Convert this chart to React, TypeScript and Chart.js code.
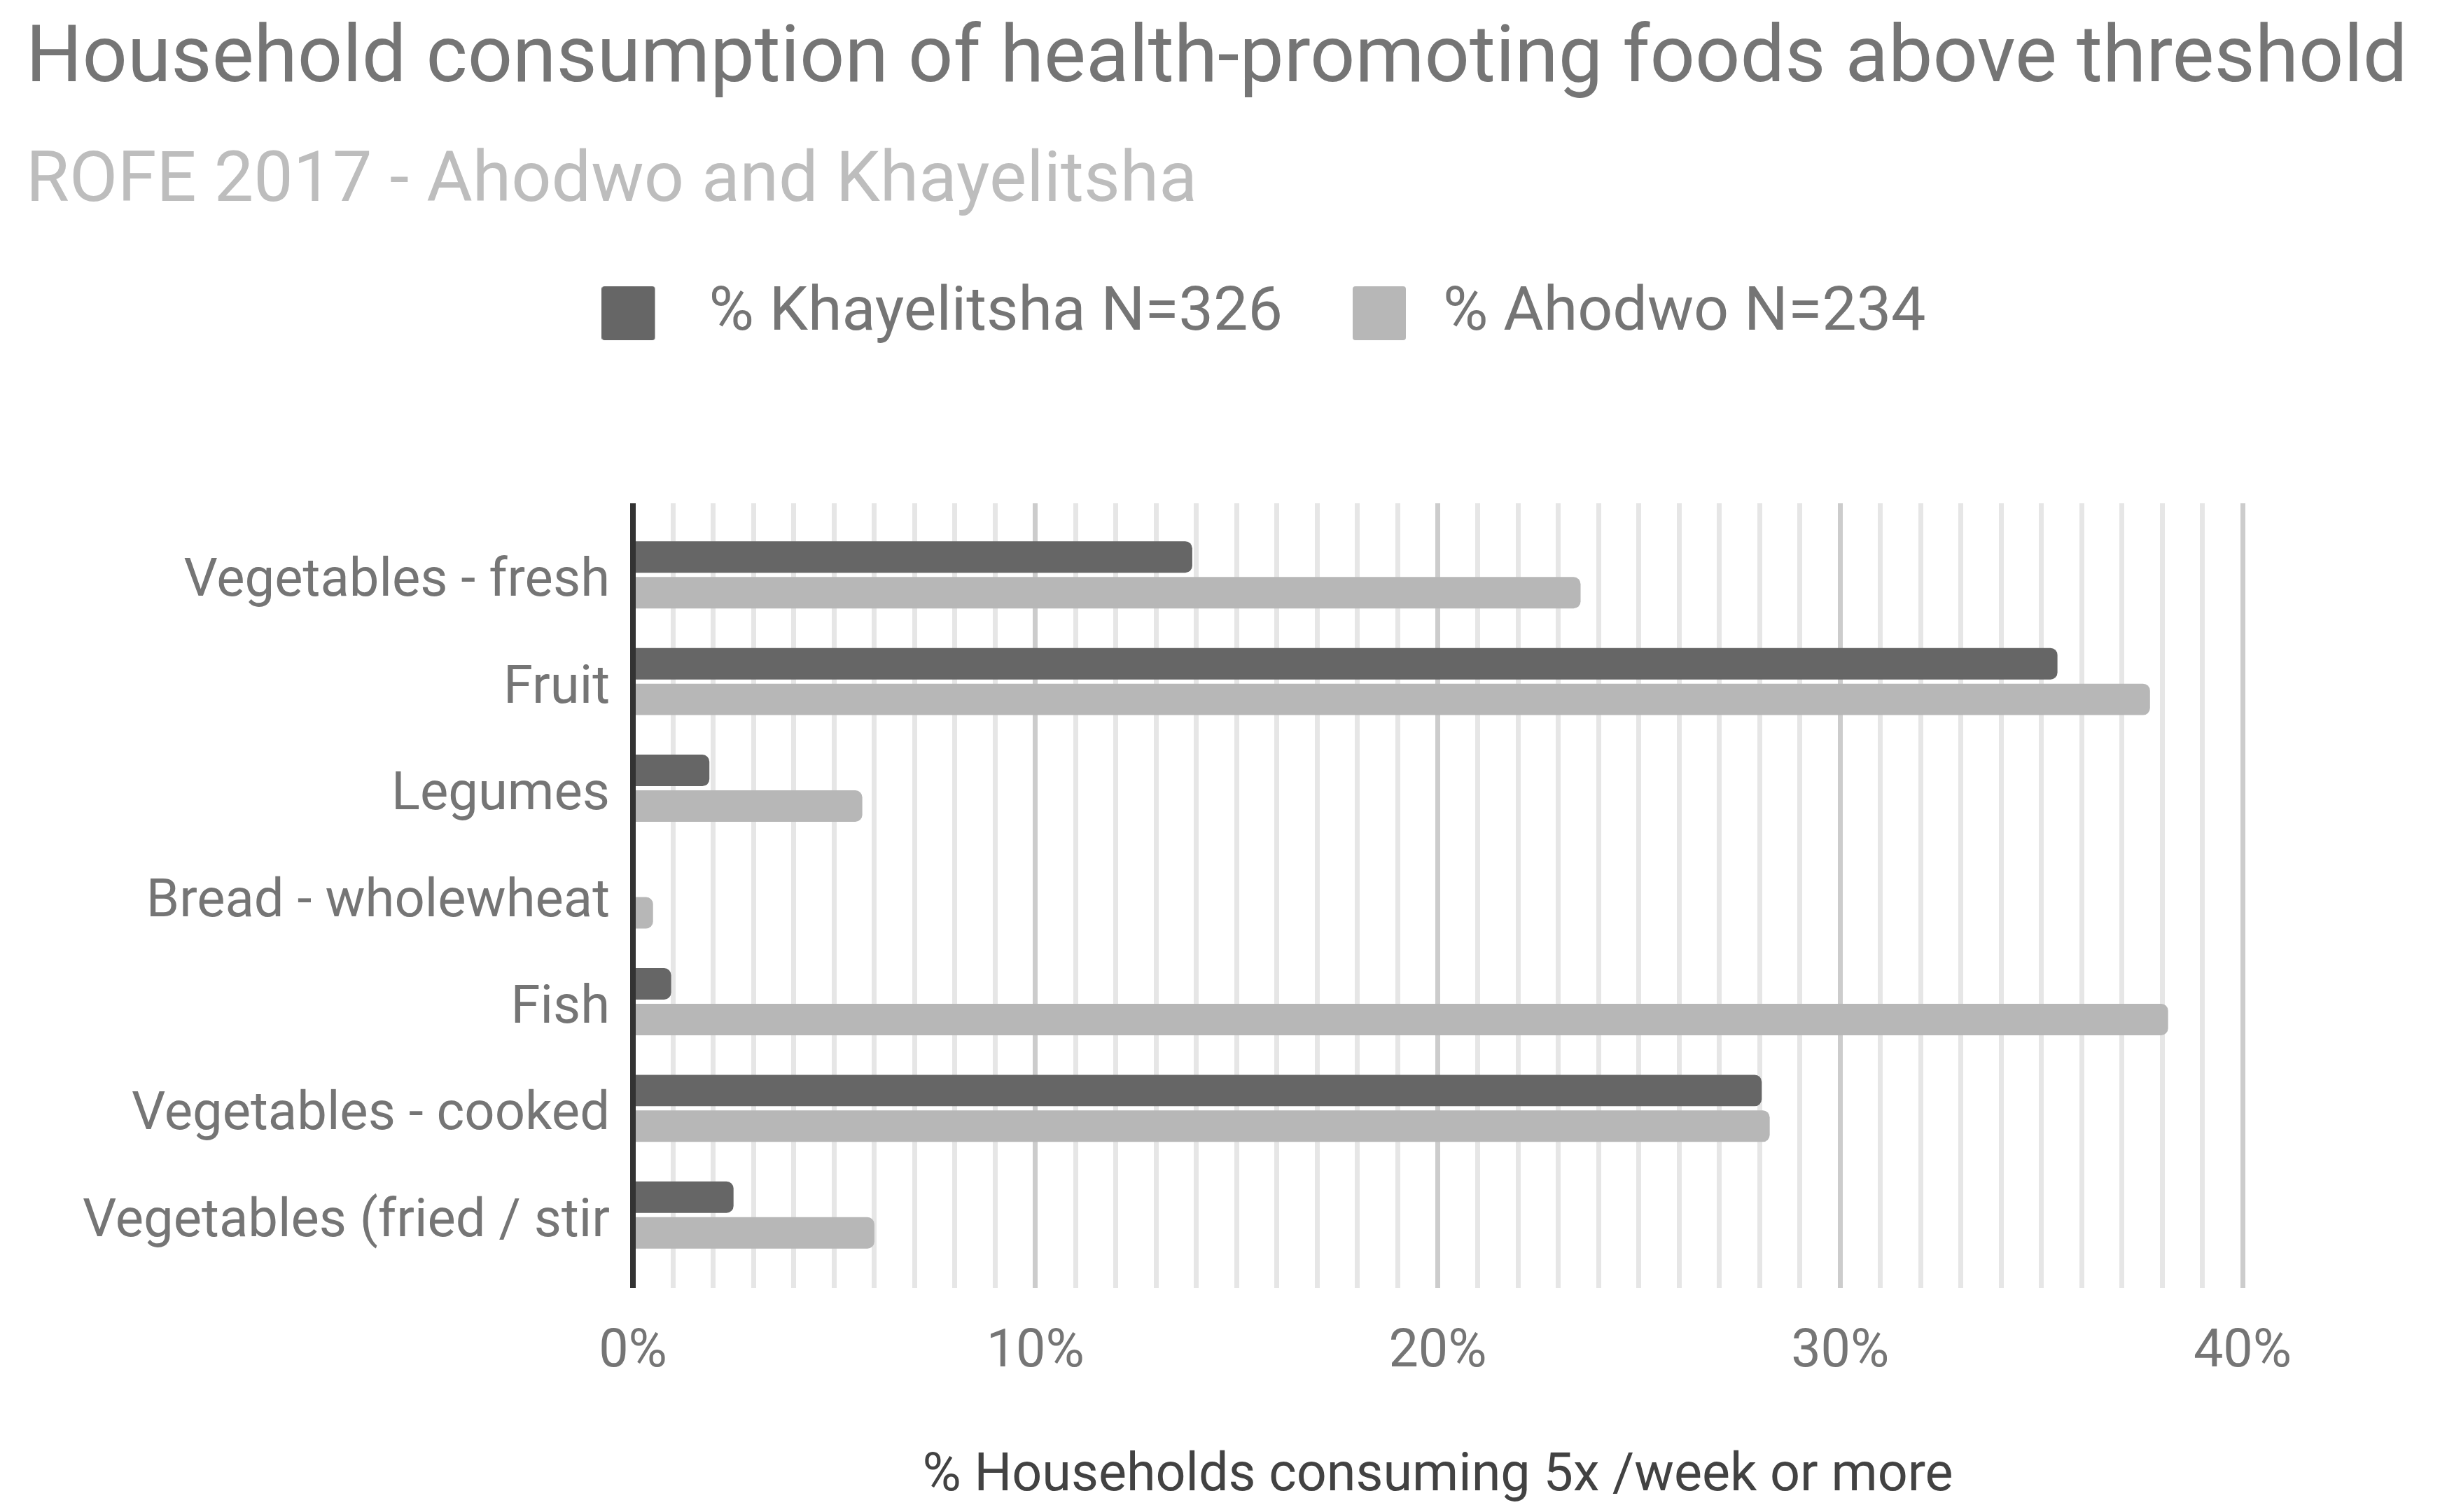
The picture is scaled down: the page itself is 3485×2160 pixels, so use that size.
import React, { useEffect, useRef } from 'react';
import { Chart, registerables } from 'chart.js';

Chart.register(...registerables);

const categories = [
  'Vegetables - fresh',
  'Fruit',
  'Legumes',
  'Bread - wholewheat',
  'Fish',
  'Vegetables - cooked',
  'Vegetables (fried / stir',
];
const khayelitsha = [13.9, 35.4, 1.9, 0, 0.95, 28.05, 2.5];
const ahodwo = [23.55, 37.7, 5.7, 0.5, 38.15, 28.25, 6.0];
const seriesNames = ['% Khayelitsha N=326', '% Ahodwo N=234'];
const seriesColors = ['#666666', '#b7b7b7'];
const xTickLabels = ['0%', '10%', '20%', '30%', '40%'];

const titleText = 'Household consumption of health-promoting foods above threshold';
const subtitleText = 'ROFE 2017 - Ahodwo and Khayelitsha';
const xAxisTitle = '% Households consuming 5x /week or more';

// legend swatch: a square inside a wider transparent image, so the gap to the text can be set
function makeSwatch(color: string, offset: number) {
  const c = document.createElement('canvas');
  c.width = 109;
  c.height = 80;
  const g = c.getContext('2d')!;
  g.fillStyle = color;
  g.beginPath();
  g.roundRect(offset, 0, 76, 77, 4);
  g.fill();
  return c;
}

const gridColor = (ctx: any) => {
  const v = ctx.tick ? ctx.tick.value : 1;
  if (v === 0) return '#333333';
  return v % 10 === 0 ? '#cccccc' : '#e6e6e6';
};
const gridWidth = (ctx: any) => (ctx.tick && ctx.tick.value === 0 ? 8 : 7);

const layoutTweaks = {
  id: 'layoutTweaks',
  beforeInit(chart: any) {
    const fit = chart.legend.fit;
    chart.legend.fit = function () {
      fit.call(this);
      this.height += 216;
    };
  },
  afterLayout(chart: any) {
    chart.legend.left = 125;
  },
};

const App: React.FC = () => {
  const canvasRef = useRef<HTMLCanvasElement>(null);

  useEffect(() => {
    if (!canvasRef.current) return;
    const ctx = canvasRef.current.getContext('2d');
    if (!ctx) return;

    Chart.defaults.font.family = 'Roboto';
    const swatches = [makeSwatch(seriesColors[0], 0), makeSwatch(seriesColors[1], 24)];

    const chart = new Chart(ctx, {
      type: 'bar',
      data: {
        labels: categories,
        datasets: [
          { label: seriesNames[0], data: khayelitsha, backgroundColor: seriesColors[0] },
          { label: seriesNames[1], data: ahodwo, backgroundColor: seriesColors[1] },
        ],
      },
      options: {
        indexAxis: 'y',
        responsive: false,
        animation: false,
        layout: { padding: { left: 37, right: 0, top: 0, bottom: 0 } },
        datasets: {
          bar: {
            categoryPercentage: 0.669,
            barPercentage: 0.882,
            borderRadius: 10,
          },
        },
        plugins: {
          tooltip: { enabled: false },
          title: {
            display: true,
            text: titleText,
            align: 'start',
            color: '#757575',
            font: { size: 113, weight: 'normal' },
            padding: { top: 20, bottom: 0 },
          },
          subtitle: {
            display: true,
            text: subtitleText,
            align: 'start',
            color: '#bdbdbd',
            font: { size: 100.5, weight: 'normal', lineHeight: 0.8 },
            padding: { top: 66, bottom: 27 },
          },
          legend: {
            position: 'top',
            align: 'center',
            labels: {
              usePointStyle: true,
              pointStyleWidth: 109,
              padding: 76,
              color: '#757575',
              font: { size: 88 },
              generateLabels: (c: any) =>
                Chart.defaults.plugins.legend.labels
                  .generateLabels(c)
                  .map((item: any, i: number) => ({ ...item, pointStyle: swatches[i] })),
            },
          },
        },
        scales: {
          x: {
            type: 'linear',
            position: 'bottom',
            min: 0,
            max: 40,
            border: { display: false },
            grid: {
              color: gridColor,
              lineWidth: gridWidth,
              tickColor: gridColor,
              tickWidth: gridWidth,
              drawTicks: true,
              tickLength: 28,
            },
            ticks: {
              stepSize: 1,
              autoSkip: false,
              maxRotation: 0,
              padding: 47.8,
              color: '#757575',
              font: { size: 75.5 },
              callback: (v: any) => (Number(v) % 10 === 0 ? xTickLabels[Number(v) / 10] : ''),
            },
            title: {
              display: true,
              text: xAxisTitle,
              color: '#424242',
              font: { size: 75.5 },
              padding: { top: 38.5, bottom: 4.7 },
            },
          },
          x2: {
            type: 'linear',
            position: 'top',
            display: true,
            min: 0,
            max: 40,
            border: { display: false },
            grid: {
              drawOnChartArea: false,
              drawTicks: true,
              tickLength: 26,
              color: gridColor,
              lineWidth: gridWidth,
              tickColor: gridColor,
              tickWidth: gridWidth,
            },
            ticks: { display: false, stepSize: 1 },
          },
          y: {
            type: 'category',
            position: 'left',
            border: { display: true, color: '#333333', width: 8 },
            grid: { display: false, drawTicks: false },
            ticks: {
              padding: 33,
              labelOffset: 11,
              color: '#757575',
              font: { size: 76 },
            },
            afterFit: (s: any) => {
              s.width = 867;
            },
          },
          y2: {
            type: 'linear',
            position: 'right',
            display: true,
            border: { display: false },
            grid: { display: false, drawTicks: false },
            ticks: { display: false },
            afterFit: (s: any) => {
              s.width = 282;
            },
          },
        },
      } as any,
      plugins: [layoutTweaks],
    });

    return () => {
      chart.destroy();
    };
  }, []);

  return (
    <div style={{ position: 'absolute', left: 0, top: 0, width: 3485, height: 2160, background: '#ffffff' }}>
      <canvas ref={canvasRef} width={3485} height={2160} />
    </div>
  );
};

export default App;
